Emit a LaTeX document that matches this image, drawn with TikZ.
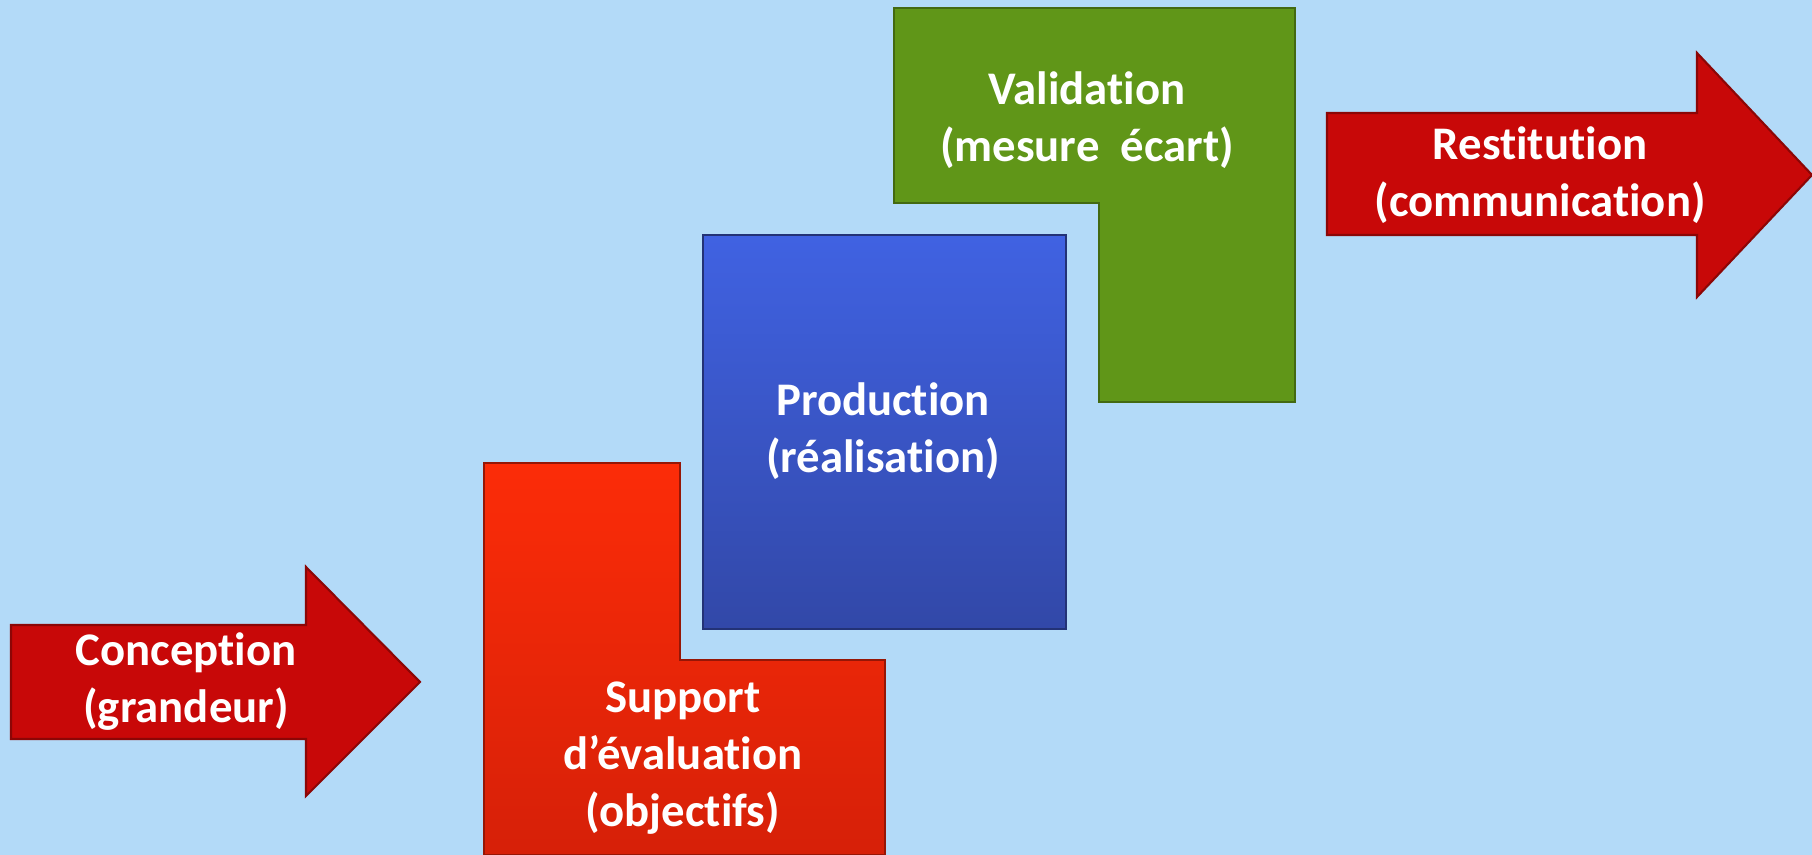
\documentclass[tikz,border=0pt]{standalone}
\usepackage{fontspec}
\setmainfont{Carlito}[Ligatures={NoCommon}]
\usepackage{tikz}
\usepackage{xcolor}

\definecolor{fond}{RGB}{179,218,248}
\definecolor{rougefl}{RGB}{200,8,8}
\definecolor{rougeL}{RGB}{252,44,8}
\definecolor{rougeLb}{RGB}{214,32,8}
\definecolor{bleuh}{RGB}{64,98,226}
\definecolor{bleub}{RGB}{50,72,168}
\definecolor{vert}{RGB}{96,150,24}

\begin{document}
\begin{tikzpicture}[x=0.1mm, y=-0.1mm,
  txt/.style={text=white, font=\bfseries\fontsize{13.3}{16.2}\selectfont, align=center},
  fleche/.style={fill=rougefl, draw=rougefl!70!black, line width=0.6pt},
  bloc/.style={draw=#1!70!black, line width=0.6pt}]
\useasboundingbox [fill=fond] (0,0) rectangle (1812,855);

% fleche de gauche
\draw [fleche] (11,625) -- (306,625) -- (306,567) -- (420,682) -- (306,796) -- (306,739) -- (11,739) -- cycle;
\node [txt] (concep) at (186,682) {Conception\\(grandeur)};

% support
\draw [bloc=rougeLb, top color=rougeL, bottom color=rougeLb] (484,463) -- (680,463) -- (680,660) -- (885,660) -- (885,855) -- (484,855) -- cycle;
\node [txt] (support) at (683,758) {Support\\d’évaluation\\(objectifs)};

% production
\draw [bloc=bleub, top color=bleuh, bottom color=bleub] (703,235) rectangle (1066,629);
\node [txt] (prod) at (883,431) {Production\\(réalisation)};

% validation
\draw [bloc=vert, fill=vert] (894,8) -- (1295,8) -- (1295,402) -- (1099,402) -- (1099,203) -- (894,203) -- cycle;
\node [txt] (valid) at (1087,120) {Validation\\(mesure~ écart)};

% fleche de droite
\draw [fleche] (1327,113) -- (1697,113) -- (1697,53) -- (1812,175) -- (1697,297) -- (1697,235) -- (1327,235) -- cycle;
\node [txt] (restit) at (1540,175) {Restitution\\(communication)};

\end{tikzpicture}
\end{document}
